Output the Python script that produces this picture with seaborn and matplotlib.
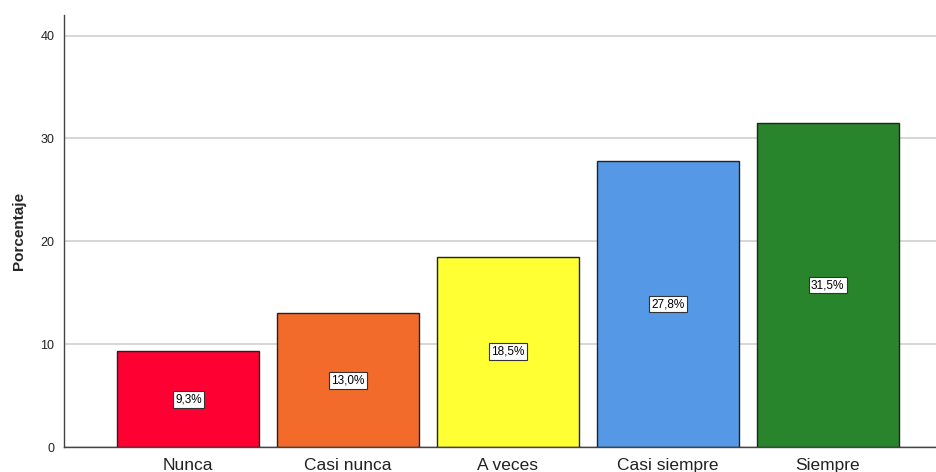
import matplotlib
matplotlib.use("Agg")
import pandas as pd
import matplotlib.pyplot as plt
import seaborn as sns

# Data
categorias = ["Nunca", "Casi nunca", "A veces", "Casi siempre", "Siempre"]
porcentajes = [9.3, 13.0, 18.5, 27.8, 31.5]
colores = ["#FF0033", "#F26B2B", "#FFFF33", "#5599E6", "#29852B"]
yticks = [0, 10, 20, 30, 40]

df = pd.DataFrame({"Categoria": categorias, "Porcentaje": porcentajes})

sns.set_style("white")
plt.rcParams["font.family"] = ["Liberation Sans", "DejaVu Sans"]

fig = plt.figure(figsize=(9.36, 4.72), dpi=100)
ax = fig.add_axes([64 / 936, 25 / 472, 1 - 64 / 936, 432 / 472])

sns.barplot(
    data=df, x="Categoria", y="Porcentaje", hue="Categoria",
    palette=colores, legend=False, width=0.89,
    edgecolor="#222222", linewidth=1.0, saturation=1, ax=ax
)

# Labels inside bars
for i, v in enumerate(porcentajes):
    ax.text(i, v / 2, f"{v:.1f}%".replace(".", ","), ha="center", va="center",
            fontsize=8.5, color="black",
            bbox=dict(boxstyle="square,pad=0.2", facecolor="white",
                      edgecolor="#333333", linewidth=0.8))

ax.set_ylim(0, 42)
ax.set_xlim(-0.778, 4.678)
ax.set_yticks(yticks)
ax.yaxis.grid(True, color="#D0D0D0", linewidth=1.2)
ax.set_axisbelow(True)
ax.set_xlabel("")
ax.set_ylabel("Porcentaje", fontsize=11, fontweight="bold", labelpad=10)
ax.tick_params(axis="y", length=0, labelsize=9, pad=7, colors="#222222")
ax.tick_params(axis="x", length=0, labelsize=12.5, pad=8, colors="#222222")

for s in ["top", "right"]:
    ax.spines[s].set_visible(False)
for s in ["left", "bottom"]:
    ax.spines[s].set_color("#444444")
    ax.spines[s].set_linewidth(1.0)

fig.savefig("out.png", dpi=100)
